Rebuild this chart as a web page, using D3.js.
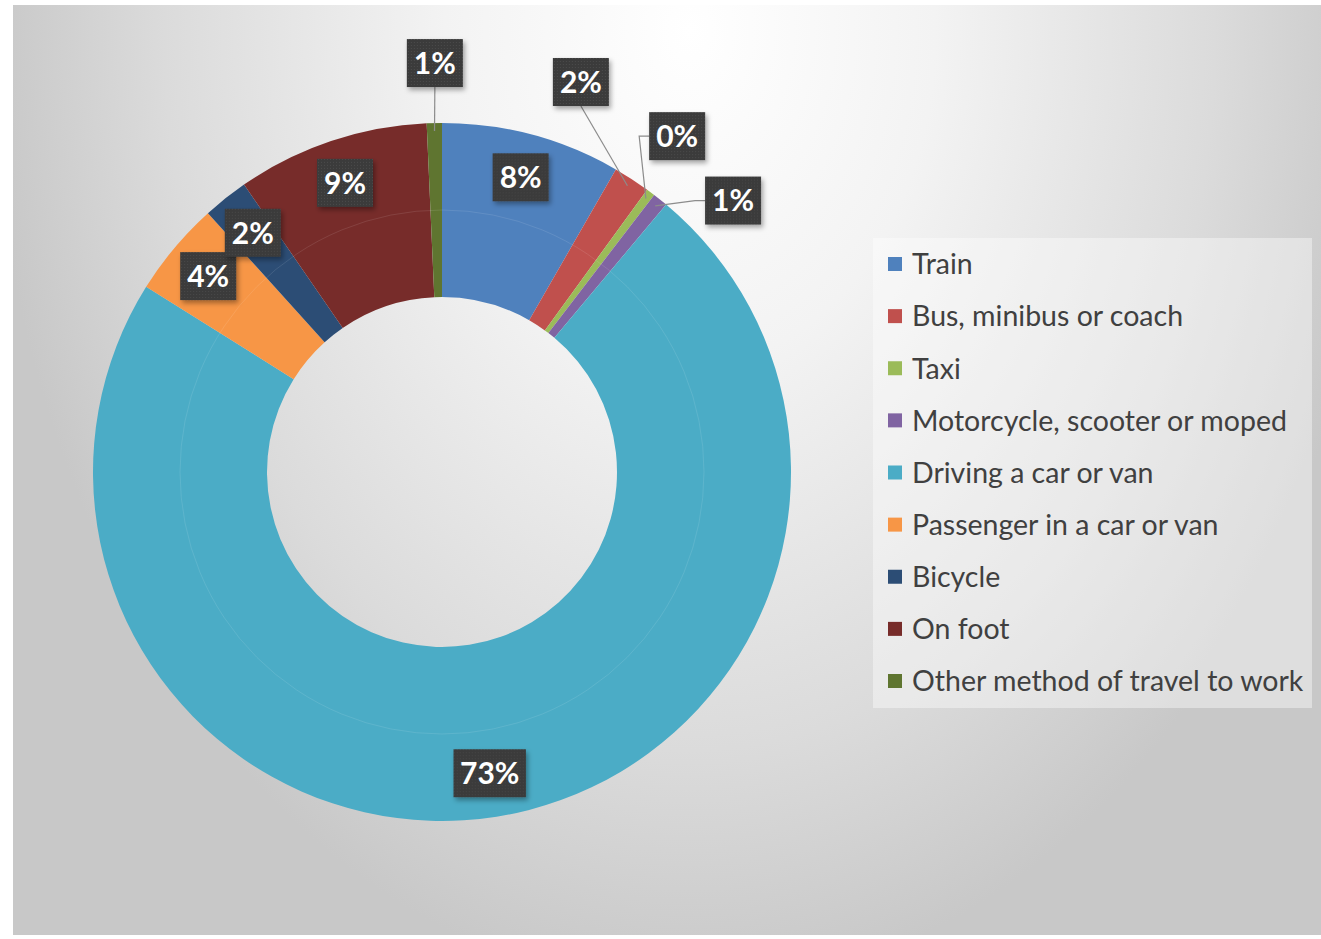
<!DOCTYPE html>
<html lang="en">
<head>
<meta charset="utf-8">
<title>Method of travel to work</title>
<script src="https://d3js.org/d3.v7.min.js"></script>
<style>
  body { margin: 0; background: #ffffff; }
  svg { display: block; }
</style>
</head>
<body>
<script>
// data (share of workers, %)
const categories = ["Train", "Bus, minibus or coach", "Taxi", "Motorcycle, scooter or moped",
                    "Driving a car or van", "Passenger in a car or van", "Bicycle", "On foot",
                    "Other method of travel to work"];
const shares = [8.3, 1.7, 0.4, 0.7, 72.8, 4.4, 2.1, 8.9, 0.7];

// office 2010 palette
const colors = ["#4f81bd", "#c0504d", "#9bbb59", "#8064a2", "#4bacc6", "#f79646",
                "#2c4d75", "#772c2a", "#5f7530"];

// small slices get their label pushed outside (angle in degrees, radius in px)
const outsideLabels = {
    "Bus, minibus or coach": {angle: 19.6, r: 414, anchor: "bottom"},
    "Taxi": {angle: 35, r: 410, anchor: "left"},
    "Motorcycle, scooter or moped": {angle: 47, r: 398, anchor: "left"},
    "Other method of travel to work": {angle: -1, r: 409, anchor: "bottom"}
};

const W = 1321, H = 939;
const cx = 442, cy = 472;
const outerR = 349, innerR = 175;

const data = categories.map((c, i) => ({name: c, value: shares[i], color: colors[i]}));
const total = d3.sum(shares);

const svg = d3.select("body").append("svg")
    .attr("width", W)
    .attr("height", H);

const defs = svg.append("defs");

const grad = defs.append("radialGradient")
    .attr("id", "bg")
    .attr("gradientUnits", "userSpaceOnUse")
    .attr("cx", 0).attr("cy", 0).attr("r", 1)
    .attr("gradientTransform", "translate(690,30) scale(700,960)");
grad.append("stop").attr("offset", 0).attr("stop-color", "#ffffff");
grad.append("stop").attr("offset", 0.35).attr("stop-color", "#f3f3f3");
grad.append("stop").attr("offset", 0.75).attr("stop-color", "#dbdbdb");
grad.append("stop").attr("offset", 1).attr("stop-color", "#c8c8c8");

const dots = defs.append("pattern")
    .attr("id", "dots")
    .attr("width", 3).attr("height", 3)
    .attr("patternUnits", "userSpaceOnUse");
dots.append("rect").attr("width", 3).attr("height", 3).attr("fill", "#3a3a3a");
dots.append("rect").attr("width", 1).attr("height", 1).attr("fill", "#4b4b4b");

const shadow = defs.append("filter")
    .attr("id", "shadow")
    .attr("x", "-30%").attr("y", "-30%").attr("width", "160%").attr("height", "160%");
shadow.append("feDropShadow")
    .attr("dx", 2).attr("dy", 3).attr("stdDeviation", 2.5)
    .attr("flood-color", "#000").attr("flood-opacity", 0.35);

// chart area
svg.append("rect")
    .attr("x", 13).attr("y", 5)
    .attr("width", W - 13).attr("height", 930)
    .attr("fill", "url(#bg)");

const pie = d3.pie()
    .sort(null)
    .value(d => d.value);

const arc = d3.arc()
    .innerRadius(innerR)
    .outerRadius(outerR);

const arcs = pie(data);

const chart = svg.append("g")
    .attr("transform", "translate(" + cx + "," + cy + ")");

chart.selectAll("path.slice")
    .data(arcs)
    .enter().append("path")
    .attr("class", "slice")
    .attr("d", arc)
    .attr("fill", d => d.data.color);

// faint ring in the middle of the band
chart.append("circle")
    .attr("r", (innerR + outerR) / 2)
    .attr("fill", "none")
    .attr("stroke", "#ffffff")
    .attr("stroke-opacity", 0.1)
    .attr("stroke-width", 1);

function polar(angleDeg, r) {
    const a = angleDeg * Math.PI / 180;
    return [r * Math.sin(a), -r * Math.cos(a)];
}

const labels = chart.append("g");
const leaders = chart.insert("g", "g");

arcs.forEach(function(d) {
    const txt = Math.round(d.data.value / total * 100) + "%";
    const mid = (d.startAngle + d.endAngle) / 2 * 180 / Math.PI;
    const out = outsideLabels[d.data.name];
    const pos = out ? polar(out.angle, out.r) : polar(mid, 305);

    const g = labels.append("g")
        .attr("transform", "translate(" + pos[0] + "," + pos[1] + ")");
    const t = g.append("text")
        .attr("text-anchor", "middle")
        .attr("dy", "0.36em")
        .attr("fill", "#ffffff")
        .style("font-family", "Lato, 'Open Sans', sans-serif")
        .style("font-weight", "bold")
        .style("font-size", "30px")
        .text(txt);
    const tw = t.node().getComputedTextLength();
    const bw = Math.max(56, tw + 13), bh = 48;
    g.insert("rect", "text")
        .attr("x", -bw / 2).attr("y", -bh / 2)
        .attr("width", bw).attr("height", bh)
        .attr("fill", "url(#dots)")
        .attr("filter", "url(#shadow)");

    if (out) {
        const end = polar(mid, outerR - 8);
        let pts;
        if (out.anchor === "bottom") {
            pts = [[pos[0], pos[1] + bh / 2], end];
        } else {
            const sx = pos[0] - bw / 2;
            pts = [[sx, pos[1]], [sx - 10, pos[1]], end];
        }
        leaders.append("path")
            .attr("d", d3.line()(pts))
            .attr("fill", "none")
            .attr("stroke", "#8c8c8c")
            .attr("stroke-width", 1.2);
    }
});
// leaders go above slices, below the boxes
leaders.raise();
labels.raise();

// legend
const legend = svg.append("g");
legend.append("rect")
    .attr("x", 873).attr("y", 238)
    .attr("width", 439).attr("height", 470)
    .attr("fill", "#ffffff")
    .attr("fill-opacity", 0.4);

const rowY = d3.scalePoint()
    .domain(categories)
    .range([264, 681]);

const items = legend.selectAll("g.item")
    .data(data)
    .enter().append("g")
    .attr("class", "item")
    .attr("transform", d => "translate(888," + rowY(d.name) + ")");

items.append("rect")
    .attr("x", 0).attr("y", -7)
    .attr("width", 14).attr("height", 14)
    .attr("fill", d => d.color);

items.append("text")
    .attr("x", 24)
    .attr("dy", "0.36em")
    .attr("fill", "#404040")
    .style("font-family", "Lato, 'Open Sans', sans-serif")
    .style("font-size", "28.5px")
    .text(d => d.name);
</script>
</body>
</html>
